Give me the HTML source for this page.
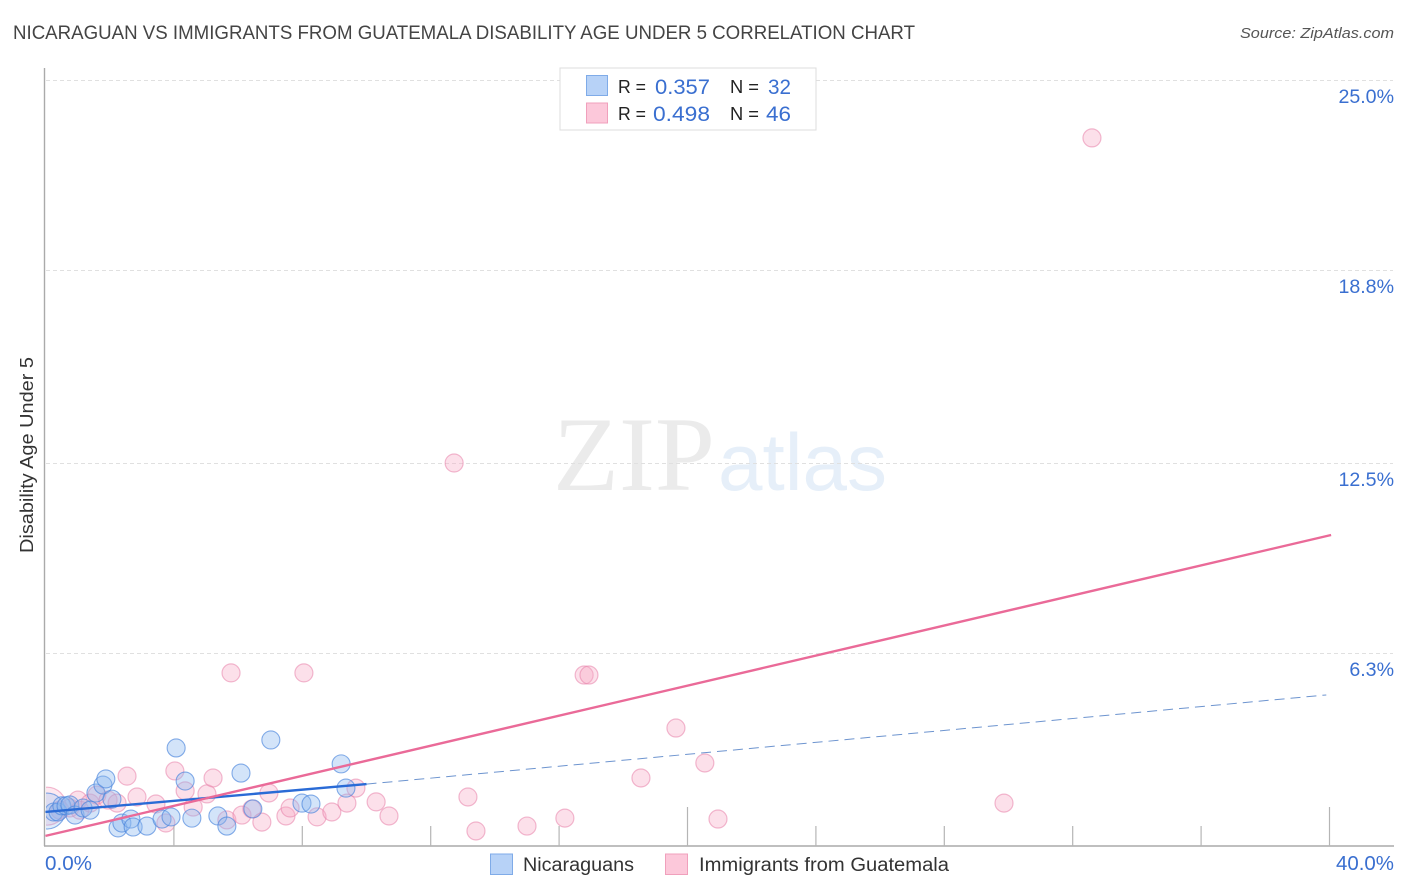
<!DOCTYPE html>
<html lang="en">
<head>
<meta charset="utf-8">
<title>Nicaraguan vs Immigrants from Guatemala Disability Age Under 5 Correlation Chart</title>
<style>
html,body{margin:0;padding:0;background:#fff;width:1406px;height:892px;overflow:hidden}
svg{display:block;font-family:"Liberation Sans",sans-serif}
</style>
</head>
<body>
<svg id="chart" width="1406" height="892" viewBox="0 0 1406 892" xmlns="http://www.w3.org/2000/svg">
  <rect x="0" y="0" width="1406" height="892" fill="#fff"/>
  <text x="13" y="39" font-size="19" fill="#444" textLength="902" lengthAdjust="spacingAndGlyphs">NICARAGUAN VS IMMIGRANTS FROM GUATEMALA DISABILITY AGE UNDER 5 CORRELATION CHART</text>
  <text x="1394" y="38" font-size="15" font-style="italic" fill="#555" text-anchor="end" textLength="154" lengthAdjust="spacingAndGlyphs">Source: ZipAtlas.com</text>

  <g>
    <text x="553" y="490" font-family="'Liberation Serif',serif" font-size="106" fill="#ebebeb" textLength="162" lengthAdjust="spacingAndGlyphs">ZIP</text>
    <text x="718" y="490" font-size="81" fill="#e6eff9" textLength="169" lengthAdjust="spacingAndGlyphs">atlas</text>
  </g>

  <g id="grid"></g>
  <g id="pink-points"></g>
  <g id="blue-points"></g>
  <rect x="0" y="760" width="46" height="86" fill="#fff"/>
  <g id="axes"></g>
  <g id="trends"></g>
  <g id="labels"></g>

  <text transform="translate(33,455) rotate(-90)" font-size="18" fill="#333" text-anchor="middle" textLength="196" lengthAdjust="spacingAndGlyphs">Disability Age Under 5</text>

  <g>
    <rect x="560" y="68" width="256" height="62" fill="#fff" stroke="#ddd" stroke-width="1"/>
    <rect x="586.5" y="75.5" width="21" height="20" fill="#b7d2f7" stroke="#7fabe8"/>
    <rect x="586.5" y="103" width="21" height="20" fill="#fcc8da" stroke="#f0a0bc"/>
    <text x="618" y="93" font-size="18" fill="#222" textLength="28" lengthAdjust="spacingAndGlyphs">R =</text>
    <text x="655" y="94" font-size="21" fill="#3a6fd0" textLength="55" lengthAdjust="spacingAndGlyphs">0.357</text>
    <text x="730" y="93" font-size="18" fill="#222" textLength="29" lengthAdjust="spacingAndGlyphs">N =</text>
    <text x="768" y="94" font-size="21" fill="#3a6fd0" textLength="23" lengthAdjust="spacingAndGlyphs">32</text>
    <text x="618" y="120" font-size="18" fill="#222" textLength="28" lengthAdjust="spacingAndGlyphs">R =</text>
    <text x="653" y="121" font-size="21" fill="#3a6fd0" textLength="57" lengthAdjust="spacingAndGlyphs">0.498</text>
    <text x="730" y="120" font-size="18" fill="#222" textLength="29" lengthAdjust="spacingAndGlyphs">N =</text>
    <text x="766" y="121" font-size="21" fill="#3a6fd0" textLength="25" lengthAdjust="spacingAndGlyphs">46</text>
  </g>

  <g>
    <rect x="490.5" y="854" width="22" height="20.5" fill="#b7d2f7" stroke="#7fabe8"/>
    <text x="523" y="871" font-size="19" fill="#333" textLength="111" lengthAdjust="spacingAndGlyphs">Nicaraguans</text>
    <rect x="665.5" y="854" width="22" height="20.5" fill="#fcc8da" stroke="#f0a0bc"/>
    <text x="699" y="871" font-size="19" fill="#333" textLength="250" lengthAdjust="spacingAndGlyphs">Immigrants from Guatemala</text>
  </g>
</svg>
<script>
// Chart data (x and y are percentages)
const yTicks = [25.0, 18.8, 12.5, 6.3];
const yTickLabels = ["25.0%", "18.8%", "12.5%", "6.3%"];
const xTicks = [4, 8, 12, 16, 20, 24, 28, 32, 36, 40];
const xMajorTicks = [20, 40];
const xEndLabels = ["0.0%", "40.0%"];

const nicaraguanX = [0.05,0.26,0.39,0.51,0.64,0.76,0.92,1.17,1.39,1.57,1.79,1.88,2.07,2.26,2.38,2.66,2.73,3.16,3.63,3.91,4.07,4.35,4.56,5.37,5.65,6.09,6.46,7.02,7.99,8.27,9.21,9.36];
const nicaraguanY = [1.14,1.11,1.11,1.31,1.31,1.34,1.01,1.24,1.17,1.73,1.99,2.19,1.53,0.59,0.75,0.88,0.62,0.65,0.88,0.95,3.20,2.12,0.91,0.98,0.65,2.38,1.21,3.46,1.40,1.37,2.68,1.89];
const nicaraguanLargeIndex = [0];

const guatemalaX = [0.05,0.45,0.76,1.01,1.07,1.39,1.60,1.95,2.23,2.54,2.85,3.44,3.75,4.03,4.35,4.60,5.03,5.22,5.65,5.78,6.12,6.43,6.74,6.96,7.49,7.62,8.05,8.46,8.92,9.39,9.67,10.30,10.70,12.73,13.16,13.41,15.00,16.18,16.78,16.93,18.55,19.64,20.54,20.95,29.86,32.60];
const guatemalaY = [1.30,1.17,1.24,1.50,1.17,1.40,1.66,1.50,1.40,2.28,1.60,1.37,0.75,2.45,1.80,1.27,1.70,2.22,0.85,5.65,1.01,1.21,0.78,1.73,0.98,1.24,5.65,0.95,1.11,1.40,1.89,1.44,0.98,12.50,1.60,0.49,0.65,0.91,5.58,5.58,2.22,3.85,2.71,0.88,1.40,23.11];
const guatemalaLargeIndex = [0];

const nicaraguanTrendX = [0, 10];
const nicaraguanTrendY = [1.11, 2.02];
const nicaraguanDashX = [10, 39.9];
const nicaraguanDashY = [2.02, 4.93];
const guatemalaTrendX = [0, 40.05];
const guatemalaTrendY = [0.33, 10.15];

// Axis functions
const sx = v => 45.5 + v * 32.1;
const sy = v => 846 - v * 30.64;
const NS = 'http://www.w3.org/2000/svg';
const mk = (tag, attrs, parent) => {
  const el = document.createElementNS(NS, tag);
  for (const k in attrs) el.setAttribute(k, attrs[k]);
  parent.appendChild(el);
  return el;
};

const grid = document.getElementById('grid');
const axes = document.getElementById('axes');
const labels = document.getElementById('labels');

yTicks.forEach((t, i) => {
  const gy = Math.round(sy(t)) + 0.5;
  const line = mk('line', {x1: 46, x2: 1393, y1: gy, y2: gy, stroke: '#e0e0e0', 'stroke-width': 1, 'stroke-dasharray': '4 3'}, grid);
  
  
  const lab = mk('text', {x: 1394, y: sy(t) + 23, 'font-size': 19.6, fill: '#3a6fd0', 'text-anchor': 'end'}, labels);
  lab.textContent = yTickLabels[i];
  
  
});

const yAxis = mk('line', {x1: 44.5, x2: 44.5, y1: 68, y2: 846, stroke: '#aaa', 'stroke-width': 1.4}, axes);


const xAxis = mk('line', {x1: 44, x2: 1394, y1: 846, y2: 846, stroke: '#aaa', 'stroke-width': 1.4}, axes);



xTicks.forEach(t => {
  const top = xMajorTicks.includes(t) ? 807 : 826;
  const tick = mk('line', {x1: sx(t), x2: sx(t), y1: top, y2: 846, stroke: '#b5b5b5', 'stroke-width': 1.2}, axes);
  
  
});

const xLabLeft = mk('text', {x: 45, y: 870, 'font-size': 20, fill: '#3a6fd0', textLength: 47, lengthAdjust: 'spacingAndGlyphs'}, labels);
xLabLeft.textContent = xEndLabels[0];


const xLabRight = mk('text', {x: 1336, y: 870, 'font-size': 20, fill: '#3a6fd0', textLength: 58, lengthAdjust: 'spacingAndGlyphs'}, labels);
xLabRight.textContent = xEndLabels[1];



const pinkG = document.getElementById('pink-points');
guatemalaX.forEach((x, i) => {
  const big = guatemalaLargeIndex.includes(i);
  const c = mk('circle', {cx: sx(x), cy: sy(guatemalaY[i]), r: big ? 19 : 9, fill: big ? 'rgba(248,170,198,0.26)' : 'rgba(248,170,198,0.36)', stroke: 'rgba(232,130,170,0.55)', 'stroke-width': 1.2}, pinkG);
  
  
});

const blueG = document.getElementById('blue-points');
nicaraguanX.forEach((x, i) => {
  const big = nicaraguanLargeIndex.includes(i);
  const c = mk('circle', {cx: sx(x), cy: sy(nicaraguanY[i]), r: big ? 18 : 9, fill: big ? 'rgba(140,185,240,0.28)' : 'rgba(140,185,240,0.38)', stroke: 'rgba(70,130,220,0.65)', 'stroke-width': 1.1}, blueG);
  
  
});

const trends = document.getElementById('trends');
const dash = mk('line', {x1: sx(nicaraguanDashX[0]), y1: sy(nicaraguanDashY[0]), x2: sx(nicaraguanDashX[1]), y2: sy(nicaraguanDashY[1]), stroke: '#6d94cf', 'stroke-width': 1, 'stroke-dasharray': '10 6'}, trends);


const blueT = mk('line', {x1: sx(nicaraguanTrendX[0]), y1: sy(nicaraguanTrendY[0]), x2: sx(nicaraguanTrendX[1]), y2: sy(nicaraguanTrendY[1]), stroke: '#2a6bd6', 'stroke-width': 2.4}, trends);


const pinkT = mk('line', {x1: sx(guatemalaTrendX[0]), y1: sy(guatemalaTrendY[0]), x2: sx(guatemalaTrendX[1]), y2: sy(guatemalaTrendY[1]), stroke: '#ea6a98', 'stroke-width': 2.4}, trends);


</script>
</body>
</html>
